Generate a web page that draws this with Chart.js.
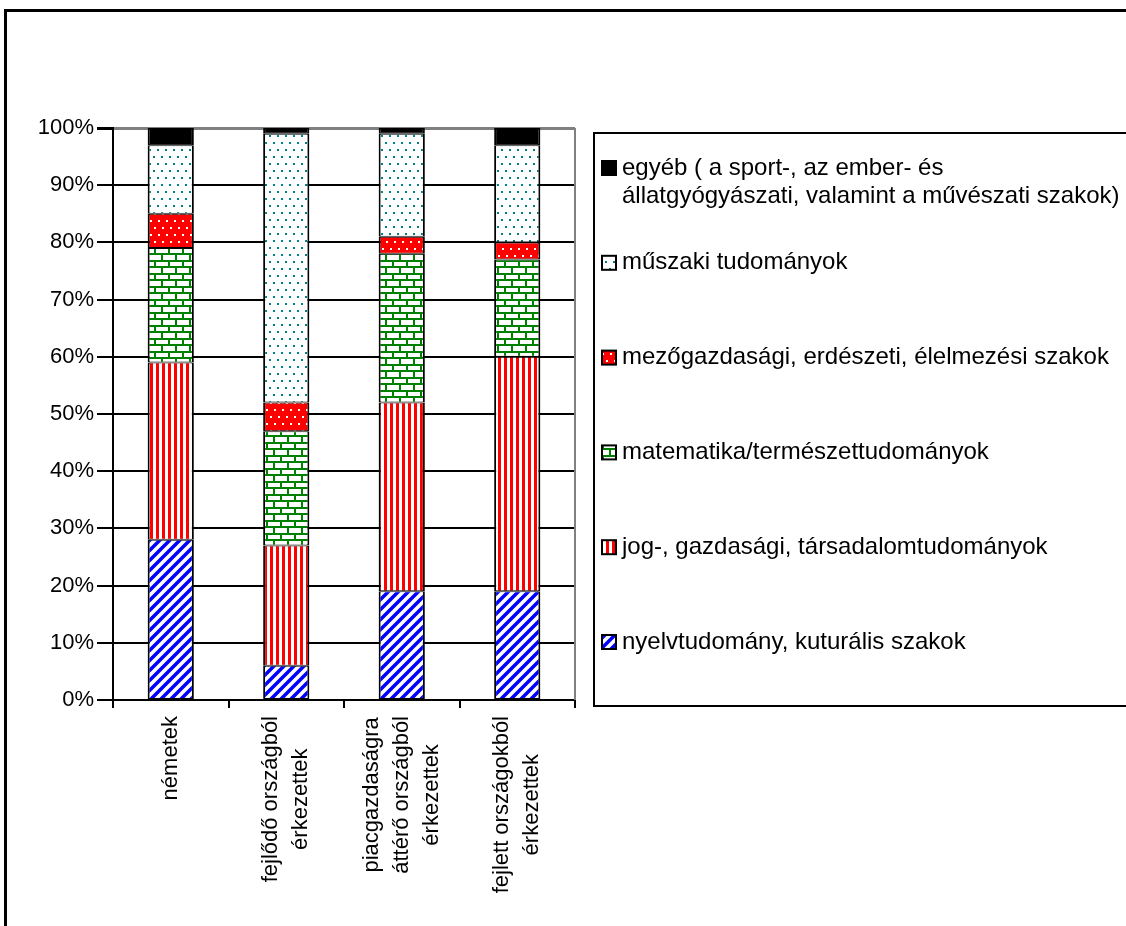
<!DOCTYPE html>
<html>
<head>
  <meta charset="utf-8">
  <title>Szakválasztás származás szerint</title>
  <script src="https://cdn.jsdelivr.net/npm/chart.js"></script>
  <style>
    body { margin: 0; overflow: hidden; background: #fff; }
    #frame { position: absolute; left: 4px; top: 9px; width: 1200px; height: 1000px; border: 3px solid #000; }
    #wrap { position: absolute; left: 0; top: 0; width: 1126px; height: 926px; }
  </style>
</head>
<body>
  <div id="frame"></div>
  <div id="wrap"><canvas id="myChart" width="1126" height="926"></canvas></div>

  <script>
    // categories (x axis), multi-line
    const categories = [
      ['németek'],
      ['fejlődő országból', 'érkezettek'],
      ['piacgazdaságra', 'áttérő országból', 'érkezettek'],
      ['fejlett országokból', 'érkezettek']
    ];

    // series, bottom to top (percent)
    const nyelv   = [28, 6, 19, 19];
    const jog     = [31, 21, 33, 41];
    const matek   = [20, 20, 26, 17];
    const mezo    = [6, 5, 3, 3];
    const muszaki = [12, 47, 18, 17];
    const egyeb   = [3, 1, 1, 3];

    const seriesLabels = [
      ['nyelvtudomány, kuturális szakok'],
      ['jog-, gazdasági, társadalomtudományok'],
      ['matematika/természettudományok'],
      ['mezőgazdasági, erdészeti, élelmezési szakok'],
      ['műszaki tudományok'],
      ['egyéb ( a sport-, az ember- és', 'állatgyógyászati, valamint a művészati szakok)']
    ];

    const yTicks = [0, 10, 20, 30, 40, 50, 60, 70, 80, 90, 100];

    const FONT = '"Liberation Sans", Arial, sans-serif';

    // fill patterns, like the old office hatches
    function makePattern(w, h, draw) {
      const c = document.createElement('canvas');
      c.width = w; c.height = h;
      const g = c.getContext('2d');
      draw(g);
      return g.createPattern(c, 'repeat');
    }

    const pDiag = makePattern(10, 10, g => {
      g.fillStyle = '#fff'; g.fillRect(0, 0, 10, 10);
      g.strokeStyle = '#0000ff'; g.lineWidth = 3.5;
      g.beginPath();
      g.moveTo(-5, 5); g.lineTo(5, -5);
      g.moveTo(0, 10); g.lineTo(10, 0);
      g.moveTo(5, 15); g.lineTo(15, 5);
      g.stroke();
    });
    const pVert = makePattern(6, 6, g => {
      g.fillStyle = '#fff'; g.fillRect(0, 0, 6, 6);
      g.fillStyle = '#ff0000'; g.fillRect(0, 0, 3, 6);
    });
    const pBrick = makePattern(14, 13, g => {
      g.fillStyle = '#fff'; g.fillRect(0, 0, 14, 13);
      g.fillStyle = '#008000';
      g.fillRect(0, 0, 14, 2);
      g.fillRect(0, 6, 14, 2);
      g.fillRect(0, 0, 2, 6);
      g.fillRect(7, 6, 2, 7);
    });
    const pRedDots = makePattern(8, 14, g => {
      g.fillStyle = '#ff0000'; g.fillRect(0, 0, 8, 14);
      g.fillStyle = '#fff';
      g.fillRect(2, 3, 2, 2);
      g.fillRect(6, 10, 2, 2);
    });
    const pTealDots = makePattern(8, 14, g => {
      g.fillStyle = '#fff'; g.fillRect(0, 0, 8, 14);
      g.fillStyle = '#008080';
      g.fillRect(1, 2, 2, 2);
      g.fillRect(5, 9, 2, 2);
    });

    const fills = [pDiag, pVert, pBrick, pRedDots, pTealDots, '#000000'];
    const values = [nyelv, jog, matek, mezo, muszaki, egyeb];

    // centred, rotated category labels + the boxed legend on the right
    const decorations = {
      id: 'decorations',
      afterDraw(chart) {
        const ctx = chart.ctx;
        const area = chart.chartArea;
        const xs = chart.scales.x;

        // grey right edge of plot area
        ctx.save();
        ctx.strokeStyle = '#808080';
        ctx.lineWidth = 2;
        ctx.beginPath();
        ctx.moveTo(area.right, area.top);
        ctx.lineTo(area.right, area.bottom);
        ctx.stroke();
        ctx.restore();

        // x labels
        ctx.save();
        ctx.font = '22px ' + FONT;
        ctx.fillStyle = '#000';
        ctx.textAlign = 'center';
        ctx.textBaseline = 'middle';
        const lineH = 30;
        categories.forEach((lines, i) => {
          const x = xs.getPixelForValue(i);
          const longest = Math.max(...lines.map(l => ctx.measureText(l).width));
          const cy = area.bottom + 16 + longest / 2;
          ctx.save();
          ctx.translate(x, cy);
          ctx.rotate(-Math.PI / 2);
          lines.forEach((l, k) => {
            ctx.fillText(l, 0, (k - (lines.length - 1) / 2) * lineH);
          });
          ctx.restore();
        });
        ctx.restore();

        // legend box
        const bx = area.right + 19, by = 133, bw = 600, bh = 573;
        ctx.save();
        ctx.fillStyle = '#fff';
        ctx.fillRect(bx, by, bw, bh);
        ctx.strokeStyle = '#000';
        ctx.lineWidth = 2;
        ctx.strokeRect(bx, by, bw, bh);

        ctx.font = '24px ' + FONT;
        ctx.textAlign = 'left';
        ctx.textBaseline = 'middle';
        const ds = chart.data.datasets;
        const step = 94.8;
        for (let j = 0; j < ds.length; j++) {
          const d = ds[ds.length - 1 - j];
          const ry = 168 + j * step;
          ctx.fillStyle = d.backgroundColor;
          ctx.fillRect(bx + 8, ry - 7, 14, 14);
          ctx.lineWidth = 2;
          ctx.strokeStyle = '#000';
          ctx.strokeRect(bx + 8, ry - 7, 14, 14);
          ctx.fillStyle = '#000';
          d.label.forEach((l, k) => ctx.fillText(l, bx + 28, ry + k * 28));
        }
        ctx.restore();
      }
    };

    const ctx = document.getElementById('myChart').getContext('2d');
    const myChart = new Chart(ctx, {
      type: 'bar',
      data: {
        labels: categories,
        datasets: values.map((v, i) => ({
          label: seriesLabels[i],
          data: v,
          backgroundColor: fills[i],
          borderColor: '#000',
          borderWidth: { left: 2, right: 2, top: 1, bottom: 1 },
          borderSkipped: false,
          categoryPercentage: 1,
          barPercentage: 0.4
        }))
      },
      options: {
        responsive: false,
        animation: false,
        layout: { padding: { left: 0, top: 128, right: 551, bottom: 0 } },
        plugins: {
          legend: { display: false },
          tooltip: { enabled: false }
        },
        scales: {
          x: {
            stacked: true,
            afterFit: axis => { axis.height = 226; },
            ticks: { display: false },
            grid: {
              offset: true,
              drawOnChartArea: false,
              drawTicks: true,
              tickLength: 8,
              color: '#000',
              lineWidth: 2
            },
            border: { display: true, color: '#000', width: 2 }
          },
          y: {
            stacked: true,
            min: 0,
            max: 100,
            afterFit: axis => { axis.width = 113; },
            afterBuildTicks: axis => { axis.ticks = yTicks.map(v => ({ value: v })); },
            ticks: {
              callback: v => v + '%',
              color: '#000',
              padding: 3,
              font: { family: FONT, size: 22 }
            },
            grid: {
              color: c => (c.tick && c.tick.value === 100 ? '#808080' : '#000'),
              lineWidth: c => (c.tick && c.tick.value === 100 ? 3 : 2),
              tickColor: '#000',
              tickLength: 16
            },
            border: { display: true, color: '#000', width: 2 }
          }
        }
      },
      plugins: [decorations]
    });
  </script>
</body>
</html>
